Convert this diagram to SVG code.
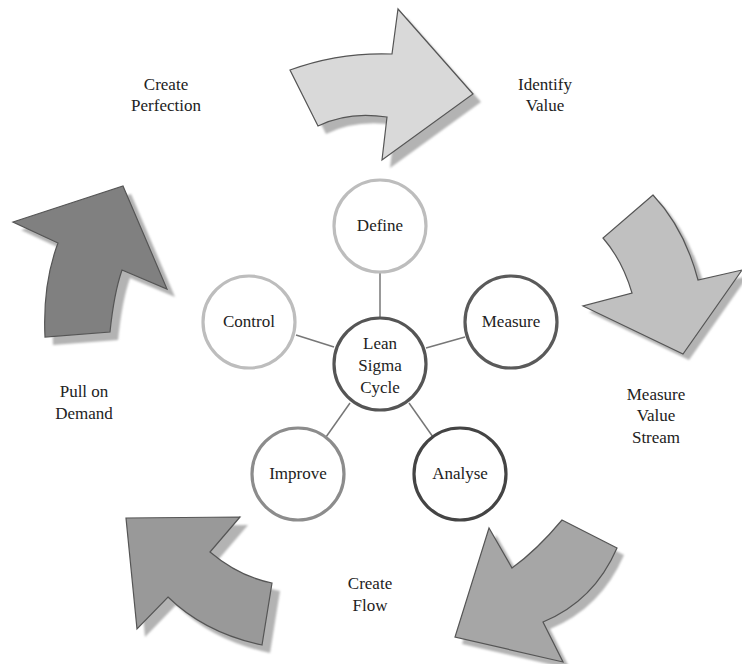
<svg xmlns="http://www.w3.org/2000/svg" width="742" height="664" viewBox="0 0 742 664" font-family="Liberation Serif, DejaVu Serif, Noto Serif, Times New Roman, serif">
<style>
text{font-size:17px;fill:#222;text-anchor:middle}
.arrow{stroke:#555;stroke-width:1.2;stroke-linejoin:miter}
.shadow{fill:#b3b3b3;stroke:none}
.node circle{fill:#fff;stroke-width:3.2}
.conn line{stroke:#777;stroke-width:1.5}
</style>
<defs>
<filter id="blur" x="-10%" y="-10%" width="120%" height="120%"><feGaussianBlur stdDeviation="1.2"/></filter>
</defs>
<rect width="742" height="664" fill="#fff"/>
<g id="arrow-identify">
<path class="shadow" filter="url(#blur)" transform="translate(8,8)" d="M290,70 Q339,52 392,54 L398,9 L473,94 L382,160 L387,117 Q348,111 318,126 Z"/>
<path class="arrow" fill="#d9d9d9" d="M290,70 Q339,52 392,54 L398,9 L473,94 L382,160 L387,117 Q348,111 318,126 Z"/>
</g>
<g id="arrow-measure">
<path class="shadow" filter="url(#blur)" transform="translate(6,6)" d="M653,195 L603,238 Q622.5,260.5 632,293 L583,306 L683,354 L742,270 L698,280 Q684.5,228.5 653,195 Z"/>
<path class="arrow" fill="#c0c0c0" d="M653,195 L603,238 Q622.5,260.5 632,293 L583,306 L683,354 L742,270 L698,280 Q684.5,228.5 653,195 Z"/>
</g>
<g id="arrow-flow">
<path class="shadow" filter="url(#blur)" transform="translate(7,7)" d="M562,520 L617,548 Q594,601 543,622 L563,662 L455,637 L489,528 L512,568 Q537,550 562,520 Z"/>
<path class="arrow" fill="#a6a6a6" d="M562,520 L617,548 Q594,601 543,622 L563,662 L455,637 L489,528 L512,568 Q537,550 562,520 Z"/>
</g>
<g id="arrow-pull">
<path class="shadow" filter="url(#blur)" transform="translate(8,8)" d="M126,518 L240,517 L210,552 Q239,576.5 272,583 L262,645 Q205,633 168,597 L137,629 Z"/>
<path class="arrow" fill="#999999" d="M126,518 L240,517 L210,552 Q239,576.5 272,583 L262,645 Q205,633 168,597 L137,629 Z"/>
</g>
<g id="arrow-perfection">
<path class="shadow" filter="url(#blur)" transform="translate(8,8)" d="M13,222 L123,186 L167,289 L122,270 Q114,293 110,332 L45,337 Q42.5,284 58,243 Z"/>
<path class="arrow" fill="#808080" d="M13,222 L123,186 L167,289 L122,270 Q114,293 110,332 L45,337 Q42.5,284 58,243 Z"/>
</g>
<g id="labels">
<text x="166" y="90">Create</text><text x="166" y="111">Perfection</text>
<text x="545" y="90">Identify</text><text x="545" y="111">Value</text>
<text x="656" y="400">Measure</text><text x="656" y="421">Value</text><text x="656" y="443">Stream</text>
<text x="370" y="589">Create</text><text x="370" y="611">Flow</text>
<text x="84" y="397">Pull on</text><text x="84" y="419">Demand</text>
</g>
<g id="connectors" class="conn">
<line x1="380" y1="272" x2="380" y2="318"/>
<line x1="296" y1="335" x2="334" y2="347"/>
<line x1="426" y1="348" x2="465" y2="337"/>
<line x1="350" y1="403" x2="326" y2="437"/>
<line x1="409" y1="403" x2="433" y2="437"/>
</g>
<g id="node-define" class="node"><circle cx="380" cy="226" r="46" stroke="#bdbdbd"/><text x="380" y="231">Define</text></g>
<g id="node-control" class="node"><circle cx="249" cy="322" r="46" stroke="#bdbdbd"/><text x="249" y="327">Control</text></g>
<g id="node-measure" class="node"><circle cx="511" cy="322" r="46" stroke="#5a5a5a"/><text x="511" y="327">Measure</text></g>
<g id="node-improve" class="node"><circle cx="298" cy="474" r="46" stroke="#8c8c8c"/><text x="298" y="479">Improve</text></g>
<g id="node-analyse" class="node"><circle cx="460" cy="474" r="46" stroke="#444"/><text x="460" y="479">Analyse</text></g>
<g id="node-center" class="node"><circle cx="380" cy="364" r="46" stroke="#555"/><text x="380" y="349">Lean</text><text x="380" y="371">Sigma</text><text x="380" y="393">Cycle</text></g>
</svg>
